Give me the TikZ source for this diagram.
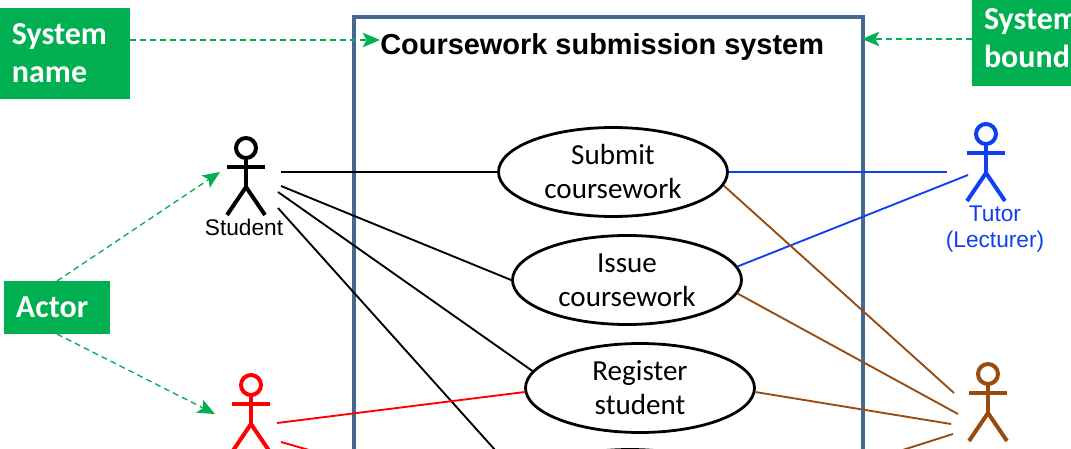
\documentclass[tikz,border=0pt]{standalone}
\usepackage{fontspec}
\setmainfont{Carlito}
\newfontfamily\arialfont{Liberation Sans}
\usetikzlibrary{arrows.meta, shapes.geometric}
\definecolor{notegreen}{HTML}{00B050}
\definecolor{framegrey}{HTML}{44688F}
\definecolor{tutorblue}{HTML}{0F3FF0}
\definecolor{adminbrown}{HTML}{984B0F}
\newlength{\pxu}
\setlength{\pxu}{0.75pt}
\tikzset{
  note/.style={rectangle, fill=notegreen, text=white, font=\fontsize{24}{28.5}\selectfont\bfseries, align=left, anchor=north west, inner xsep=12\pxu, inner ysep=0pt, outer sep=0pt},
  pointer/.style={draw=notegreen, line width=1pt, dash pattern=on 4.5pt off 3pt, -{Stealth[length=13pt, width=11pt, inset=3pt]}},
  usecase/.style={ellipse, draw, line width=2.1pt, minimum width=229\pxu, minimum height=89\pxu, inner sep=0pt, align=center, font=\fontsize{21.8}{25.5}\selectfont},
  role/.style={font=\arialfont\fontsize{17}{19.5}\selectfont, align=center},
  link/.style={line width=1.4pt},
}
% stick figure: head centre at #2
\newcommand{\stickman}[2]{
  \begin{scope}[shift={#2}, line width=3pt]
    \draw [#1] (0,0) circle (10);
    \draw [#1] (0,10) -- (0,39);
    \draw [#1] (-19,19) -- (19,19);
    \draw [#1] (-19,67) -- (0,39) -- (19,67);
  \end{scope}
}
\begin{document}
\begin{tikzpicture}[x=0.75pt, y=-0.75pt]
  \useasboundingbox (0,0) rectangle (1071,449);
  \clip (0,0) rectangle (1071,449);

  % system frame
  \draw [framegrey, line width=2.3pt] (354,470) -- (354,17) -- (863,17) -- (863,470);
  \node (title) [anchor=base west, inner sep=0pt, font=\arialfont\fontsize{21.7}{25}\selectfont\bfseries] at (380,55) {Coursework submission system};

  % use cases
  \node (submit) [usecase] at (613,172) {Submit\\coursework};
  \node (issue) [usecase] at (627,280) {Issue\\coursework};
  \node (register) [usecase] at (640,388) {Register\\student};
  \node (fourth) [usecase] at (630,494) {};

  % actors
  \stickman{black}{(246,148)}
  \stickman{tutorblue}{(986,134)}
  \stickman{red}{(251,385)}
  \stickman{adminbrown}{(988,374)}
  \node (student) [role] at (244,227) {Student};
  \node (tutor) [role, text=tutorblue] at (995,229) {Tutor\\(Lecturer)};

  % connector ends next to the actors
  \coordinate (sa) at (281,172);
  \coordinate (sb) at (281,186);
  \coordinate (sc) at (278,192);
  \coordinate (sd) at (278,208);
  \coordinate (ra) at (277,423);
  \coordinate (rb) at (281,442);
  \coordinate (rc) at (330,456);
  \coordinate (ta) at (947,172);
  \coordinate (tb) at (968,175);
  \coordinate (ba) at (954,393);
  \coordinate (bb) at (958,414);
  \coordinate (bc) at (951,424);
  \coordinate (bd) at (953,434);

  \draw [link] (sa) -- (submit.west);
  \draw [link] (sb) -- (issue.west);
  \draw [link] (sc) -- (register.171.5);
  \draw [link] (sd) -- (fourth.172);
  \draw [link, red] (ra) -- (register.182.5);
  \draw [link, red] (rb) -- (rc);
  \draw [link, tutorblue] (submit.east) -- (ta);
  \draw [link, tutorblue] (issue.7) -- (tb);
  \draw [link, adminbrown] (submit.-7) -- (ba);
  \draw [link, adminbrown] (issue.-7.4) -- (bb);
  \draw [link, adminbrown] (register.-2.5) -- (bc);
  \draw [link, adminbrown] (fourth.-3) -- (bd);

  % green notes
  \node (sysname) [note, text width=106\pxu, minimum height=91\pxu] at (0,8) {\raisebox{-1pt}{System}\\\raisebox{-1pt}{name}};
  \node (sysbound) [note, text width=180\pxu, minimum height=91\pxu] at (972,-5) {System\\boundary};
  \node (actor) [note, text width=82\pxu, minimum height=53\pxu] at (4,281) {Actor};

  \coordinate (nameend) at (380,40);
  \coordinate (boundend) at (862,39);
  \coordinate (studentend) at (220,172);
  \coordinate (redend) at (215,414);
  \draw [pointer] (sysname.east |- nameend) -- (nameend);
  \draw [pointer] (sysbound.west |- boundend) -- (boundend);
  \draw [pointer] (actor.north) -- (studentend);
  \draw [pointer] (actor.south) -- (redend);
\end{tikzpicture}
\end{document}
